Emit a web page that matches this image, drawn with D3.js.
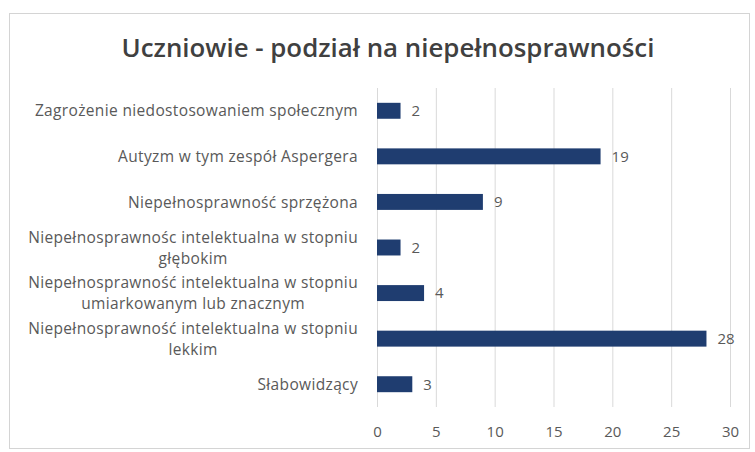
<!DOCTYPE html>
<html>
<head>
<meta charset="utf-8">
<script src="https://cdn.jsdelivr.net/npm/d3@7"></script>
<style>
  html, body { margin: 0; padding: 0; background: #fff; }
  svg { display: block; }
  text { font-family: "Open Sans", "DejaVu Sans", sans-serif; }
</style>
</head>
<body>
<svg id="chart" width="755" height="452"></svg>
<script>
const title = "Uczniowie - podział na niepełnosprawności";
const categories = [
  ["Zagrożenie niedostosowaniem społecznym"],
  ["Autyzm w tym zespół Aspergera"],
  ["Niepełnosprawność sprzężona"],
  ["Niepełnosprawnośc intelektualna w stopniu", "głębokim"],
  ["Niepełnosprawność intelektualna w stopniu", "umiarkowanym lub znacznym"],
  ["Niepełnosprawność intelektualna w stopniu", "lekkim"],
  ["Słabowidzący"]
];
const values = [2, 19, 9, 2, 4, 28, 3];
const xTicks = [0, 5, 10, 15, 20, 25, 30];

const svg = d3.select("#chart");

// chart border
svg.append("rect").attr("x", 9.5).attr("y", 13.5).attr("width", 740).attr("height", 435)
  .attr("fill", "#fff").attr("stroke", "#d4d4d4").attr("stroke-width", 1);

const tt = svg.append("text").attr("x", 388).attr("y", 57).attr("text-anchor", "middle")
  .attr("font-size", 25).attr("font-weight", 600).attr("fill", "#404040").text(title);
// fit title to the reference width
const tw = tt.node().getComputedTextLength();
if (tw > 0) tt.attr("font-size", 25 * 533 / tw);

const x = d3.scaleLinear().domain([0, 30]).range([377, 730]);
const idx = d3.range(values.length);
const y = d3.scaleBand().domain(idx).range([88, 407]).paddingInner(0.65).paddingOuter(0.325);

const g = svg.append("g");

// gridlines + axis labels
const xAxis = d3.axisBottom(x).tickValues(xTicks).tickSize(-(407 - 88)).tickPadding(19);
const ax = g.append("g").attr("transform", "translate(0,407)").call(xAxis);
ax.select(".domain").remove();
ax.selectAll(".tick line").attr("stroke", "#d9d9d9").attr("stroke-width", 1);
ax.selectAll(".tick text").attr("font-size", 15).attr("fill", "#595959")
  .attr("font-family", "'Open Sans', sans-serif");

// bars
g.selectAll("rect.bar").data(values).join("rect").attr("class", "bar")
  .attr("x", x(0)).attr("y", (d, i) => y(i))
  .attr("width", d => x(d) - x(0)).attr("height", y.bandwidth())
  .attr("fill", "#1f3d70");

// value labels
g.selectAll("text.val").data(values).join("text").attr("class", "val")
  .attr("x", d => x(d) + 11).attr("y", (d, i) => y(i) + y.bandwidth() / 2)
  .attr("dy", "0.36em").attr("font-size", 15).attr("fill", "#595959")
  .text(d => d);

// category labels
const labelRight = 358;
const lineH = 21;
const fs = 15.5, ls = 0.35;
categories.forEach((lines, i) => {
  const cy = y(i) + y.bandwidth() / 2;
  const t = g.append("text").attr("font-size", fs).attr("letter-spacing", ls).attr("fill", "#595959")
    .attr("text-anchor", lines.length > 1 ? "middle" : "end");
  const n = lines.length;
  lines.forEach((ln, k) => {
    t.append("tspan").attr("y", cy + (k - (n - 1) / 2) * lineH).attr("dy", "0.36em").text(ln);
  });
  if (n > 1) {
    const tmp = g.append("text").attr("font-size", fs).attr("letter-spacing", ls).text(lines[0]);
    const w = tmp.node().getComputedTextLength();
    tmp.remove();
    t.selectAll("tspan").attr("x", labelRight - w / 2);
  } else {
    t.selectAll("tspan").attr("x", labelRight);
  }
});
</script>
</body>
</html>
